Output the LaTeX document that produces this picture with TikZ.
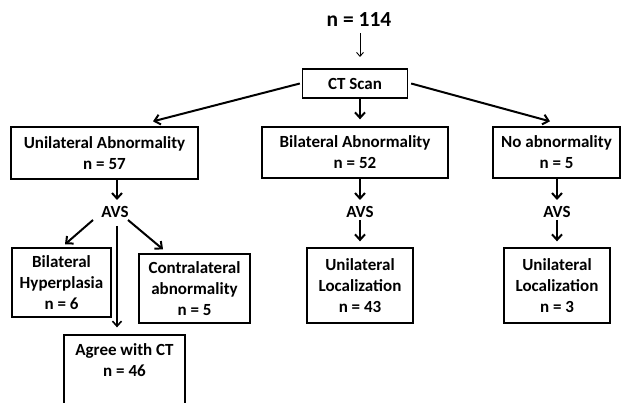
\documentclass[tikz,border=0pt]{standalone}
\usepackage{fontspec}
\setmainfont{Carlito}
\usetikzlibrary{arrows.meta,calc}
\begin{document}
\begin{tikzpicture}[x=1pt,y=-1pt,
  box/.style={draw=black,line width=1.3pt,rectangle,align=center,inner sep=0pt,
    font=\bfseries\fontsize{17}{21}\selectfont},
  lbl/.style={inner sep=0pt,font=\bfseries\fontsize{17}{21}\selectfont},
  arr/.style={line width=2pt,-{Straight Barb[length=5.5pt,width=10pt,line width=2pt]}},
  thinarr/.style={line width=0.9pt,-{Straight Barb[length=4pt,width=7pt,line width=0.9pt]}}]
\useasboundingbox (0,0) rectangle (621,403);
\clip (0,0) rectangle (621,403);
\fill[white] (0,0) rectangle (621,403);
% top
\node[font=\bfseries\fontsize{21.5}{26}\selectfont,inner sep=0pt] (n114) at (359,20) {n = 114};
\coordinate (ctin) at (360,57);
\node[box,minimum width=105pt,minimum height=29pt] (ct) at (355,83.5) {CT Scan};
% level 2
\node[box,minimum width=187pt,minimum height=52pt] (uni) at (104.5,153) {Unilateral Abnormality\\n = 57};
\node[box,minimum width=186pt,minimum height=51pt] (bil) at (355,152.5) {Bilateral Abnormality\\n = 52};
\node[box,minimum width=127pt,minimum height=51pt] (noab) at (556.5,152.5) {No abnormality\\n = 5};
% AVS labels
\node[lbl] (avs1) at (115,212) {AVS};
\node[lbl] (avs2) at (360,212) {AVS};
\node[lbl] (avs3) at (557,212) {AVS};
% level 3
\node[box,minimum width=99pt,minimum height=69pt] (hyp) at (61.5,282.5) {Bilateral\\Hyperplasia\\n = 6};
\node[box,minimum width=111pt,minimum height=69pt] (contra) at (194.5,288.5) {Contralateral\\abnormality\\n = 5};
\node[box,minimum width=121pt,minimum height=72pt] (agree) at (124.5,371) {Agree with CT\\n = 46\\\mbox{}};
\node[box,minimum width=106pt,minimum height=75pt] (loc2) at (360,285.5) {Unilateral\\Localization\\n = 43};
\node[box,minimum width=106pt,minimum height=75pt] (loc3) at (557,285.5) {Unilateral\\Localization\\n = 3};
% connectors
\draw[thinarr] (n114.south -| ctin) ++(0,6) -- (ctin);
\draw[arr] ([xshift=-2pt]ct.west) -- ([xshift=48.5pt,yshift=5pt]uni.north);
\draw[arr] ([xshift=3pt]ct.east) -- ([xshift=-6.5pt,yshift=5pt]noab.north);
\draw[arr] (ct.south -| avs2) -- ([yshift=7pt]bil.north -| avs2);
\draw[arr] ([xshift=12.5pt]uni.south) -- ([xshift=2pt,yshift=12pt]avs1.center);
\draw[arr] (bil.south -| avs2) -- ([yshift=12pt]avs2.center);
\draw[arr] (noab.south -| avs3) -- ([yshift=12pt]avs3.center);
\draw[arr] ([yshift=-8pt]avs2.center) -- ([yshift=6pt]loc2.north);
\draw[arr] ([yshift=-8pt]avs3.center) -- ([yshift=6pt]loc3.north);
\draw[arr] ([xshift=-22pt,yshift=-8pt]avs1.center) -- ([xshift=3.5pt,yshift=3pt]hyp.north);
\draw[arr] ([xshift=13pt,yshift=-8pt]avs1.center) -- ([xshift=-31.5pt,yshift=4pt]contra.north);
\draw[line width=1.6pt,-{Straight Barb[length=5pt,width=9pt,line width=1.6pt]}] ([xshift=2pt,yshift=-14pt]avs1.center) -- ([xshift=-7.5pt,yshift=7pt]agree.north);
\end{tikzpicture}
\end{document}
